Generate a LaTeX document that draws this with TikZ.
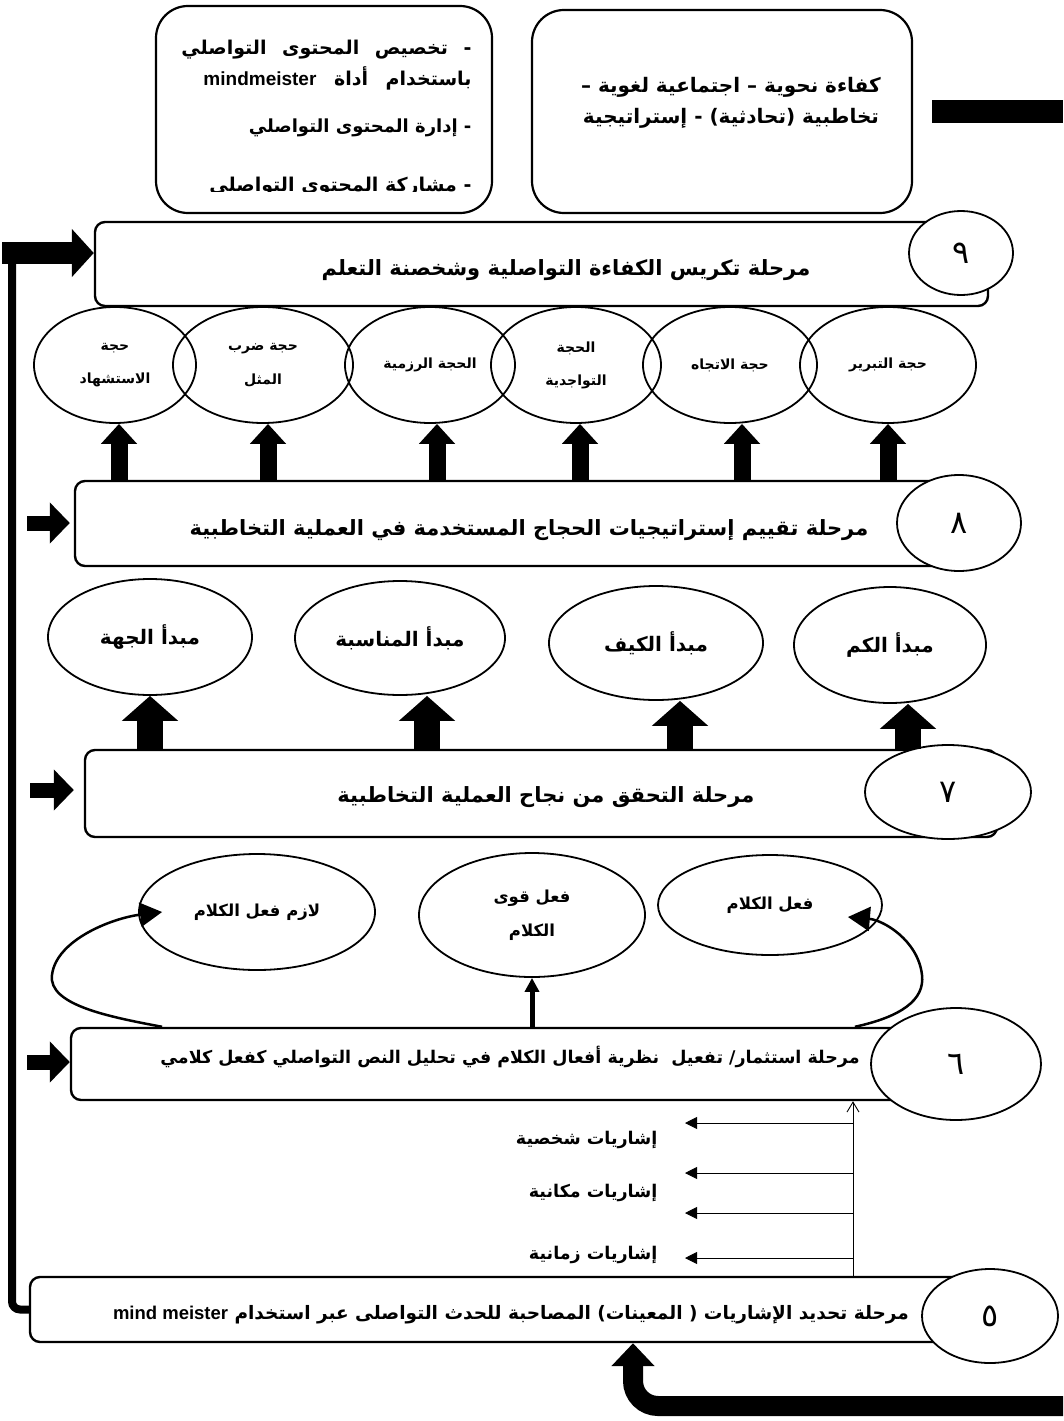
\documentclass[tikz,border=0pt]{standalone}
\usepackage{fontspec}
\setmainfont{Liberation Sans}
\newfontfamily\arabicfont[Script=Arabic]{DejaVu Sans}
\newfontfamily\latinfont{Liberation Sans}
\TeXXeTstate=1
\usepackage{tikz}
\usetikzlibrary{positioning, arrows.meta, shapes.geometric}

\newcommand{\artxt}[1]{{\arabicfont\bfseries\beginR #1\endR}}
\newcommand{\lat}[1]{\beginL{\latinfont\bfseries #1}\endL{}}
\newcommand{\fsize}[1]{\fontsize{#1}{#1}\selectfont}

\begin{document}
\begin{tikzpicture}[x=1pt, y=-1pt, >=Latex,
	stagebar/.style={draw, rectangle, rounded corners=10pt, line width=2.4pt},
	stagenum/.style={draw, ellipse, fill=white, line width=1.8pt, inner sep=0pt, font=\fsize{32}\arabicfont},
	oval/.style={draw, ellipse, line width=1.8pt, inner sep=0pt, align=center},
	infobox/.style={draw, rectangle, rounded corners=32pt, line width=2.2pt},
	fatup/.style={line width=17pt, -{Triangle[length=20pt, width=35pt]}},
	fatupb/.style={line width=26pt, -{Triangle[length=25pt, width=55pt]}},
	inarrow/.style={line width=15pt, -{Triangle[length=20pt, width=40pt]}},
	loopline/.style={line width=2.5pt, -{Triangle[length=22pt, width=24pt]}},
	thinarrow/.style={line width=0.9pt, -{Triangle[length=12pt, width=12pt]}}
]
	\useasboundingbox (0,0) rectangle (1063,1421);

	% Top boxes
	\node[infobox, minimum width=336pt, minimum height=207pt] (toolbox) at (324,109.5) {};
	\node[infobox, minimum width=380pt, minimum height=203pt] (compbox) at (722,111.5) {};
	\node[align=center, font=\fsize{20}] (comptext) at (731,103)
		{\artxt{كفاءة نحوية – اجتماعية لغوية –}\\[10pt]\artxt{تخاطبية (تحادثية) - إستراتيجية}};
	\node[anchor=east, font=\fsize{19}] (tool1) at (475,50) {\makebox[290pt][s]{\artxt{- تخصيص المحتوى التواصلي}}};
	\node[anchor=east, font=\fsize{19}] (tool2) at (475,78) {\makebox[268pt][s]{\artxt{باستخدام أداة \lat{mindmeister}}}};
	\node[anchor=east, font=\fsize{18}] (tool3) at (475,128) {\artxt{- إدارة المحتوى التواصلي}};
	\begin{scope}
		\clip (160,160) rectangle (490,191);
		\node[anchor=east, font=\fsize{19}] (tool4) at (475,187) {\makebox[262pt][s]{\artxt{- مشاركة المحتوى التواصلي}}};
	\end{scope}
	\node[fill=black, inner sep=0pt, minimum width=131pt, minimum height=23pt] (blackbar) at (997.5,111.5) {};

	% Stage bars
	\node[stagebar, minimum width=893pt, minimum height=84pt] (bar9) at (541.5,264) {};
	\node[stagebar, minimum width=910pt, minimum height=85pt] (bar8) at (530,523.5) {};
	\node[stagebar, minimum width=912pt, minimum height=87pt] (bar7) at (541,793.5) {};
	\node[stagebar, minimum width=919pt, minimum height=72pt] (bar6) at (530.5,1064) {};
	\node[stagebar, minimum width=970pt, minimum height=65pt] (bar5) at (515,1309.5) {};

	\node[font=\fsize{21}] (txt9) at (566,270) {\artxt{مرحلة تكريس الكفاءة التواصلية وشخصنة التعلم}};
	\node[font=\fsize{21}] (txt8) at (529,530) {\artxt{مرحلة تقييم إستراتيجيات الحجاج المستخدمة في العملية التخاطبية}};
	\node[font=\fsize{21}] (txt7) at (546,797) {\artxt{مرحلة التحقق من نجاح العملية التخاطبية}};
	\node[font=\fsize{17.5}] (txt6) at (510,1057) {\artxt{مرحلة استثمار/ تفعيل \ نظرية أفعال الكلام في تحليل النص التواصلي كفعل كلامي}};
	\node[font=\fsize{18.5}] (txt5) at (511,1315) {\artxt{مرحلة تحديد الإشاريات ( المعينات) المصاحبة للحدث التواصلى عبر استخدام \lat{mind meister}}};

	% Stage numbers
	\node[stagenum, minimum width=104pt, minimum height=84pt] (num9) at (961,253) {٩};
	\node[stagenum, minimum width=124pt, minimum height=96pt] (num8) at (959,523) {٨};
	\node[stagenum, minimum width=166pt, minimum height=94pt] (num7) at (948,792) {٧};
	\node[stagenum, minimum width=170pt, minimum height=112pt] (num6) at (956,1064) {٦};
	\node[stagenum, minimum width=136pt, minimum height=94pt] (num5) at (990,1316) {٥};

	% Argument ovals
	\node[oval, minimum width=162pt, minimum height=116pt, font=\fsize{14}] (arg1) at (115,365) {\artxt{حجة}\\[19pt]\artxt{الاستشهاد}};
	\node[oval, minimum width=180pt, minimum height=116pt, font=\fsize{14}] (arg2) at (263,365) {\artxt{حجة ضرب}\\[19pt]\artxt{المثل}};
	\node[oval, minimum width=170pt, minimum height=116pt, font=\fsize{14}] (arg3) at (430,365) {\artxt{الحجة الرزمية}};
	\node[oval, minimum width=170pt, minimum height=116pt, font=\fsize{14}] (arg4) at (576,365) {\artxt{الحجة}\\[19pt]\artxt{التواجدية}};
	\node[oval, minimum width=174pt, minimum height=116pt, font=\fsize{14}] (arg5) at (730,365) {\artxt{حجة الاتجاه}};
	\node[oval, minimum width=176pt, minimum height=116pt, font=\fsize{14}] (arg6) at (888,365) {\artxt{حجة التبرير}};

	\draw[fatup] ([xshift=4pt]arg1.south |- bar8.north) -- ([xshift=4pt]arg1.south);
	\draw[fatup] ([xshift=5pt]arg2.south |- bar8.north) -- ([xshift=5pt]arg2.south);
	\draw[fatup] ([xshift=7pt]arg3.south |- bar8.north) -- ([xshift=7pt]arg3.south);
	\draw[fatup] ([xshift=4pt]arg4.south |- bar8.north) -- ([xshift=4pt]arg4.south);
	\draw[fatup] ([xshift=12pt]arg5.south |- bar8.north) -- ([xshift=12pt]arg5.south);
	\draw[fatup] (arg6.south |- bar8.north) -- (arg6.south);

	% Principle ovals
	\node[oval, minimum width=204pt, minimum height=116pt, font=\fsize{20}] (prin1) at (150,637) {\artxt{مبدأ الجهة}};
	\node[oval, minimum width=210pt, minimum height=114pt, font=\fsize{20}] (prin2) at (400,638) {\artxt{مبدأ المناسبة}};
	\node[oval, minimum width=214pt, minimum height=114pt, font=\fsize{20}] (prin3) at (656,643) {\artxt{مبدأ الكيف}};
	\node[oval, minimum width=192pt, minimum height=116pt, font=\fsize{20}] (prin4) at (890,645) {\artxt{مبدأ الكم}};

	\draw[fatupb] (prin1.south |- bar7.north) -- (prin1.south);
	\draw[fatupb] ([xshift=27pt]prin2.south |- bar7.north) -- ([xshift=27pt]prin2.south);
	\draw[fatupb] ([xshift=24pt]prin3.south |- bar7.north) -- ([xshift=24pt]prin3.south);
	\draw[fatupb] ([xshift=18pt]prin4.south |- bar7.north) -- ([xshift=18pt]prin4.south);

	% Speech act ovals
	\node[oval, minimum width=236pt, minimum height=116pt, font=\fsize{16.5}] (act1) at (257,912) {\artxt{لازم فعل الكلام}};
	\node[oval, minimum width=226pt, minimum height=124pt, font=\fsize{16.5}] (act2) at (532,915) {\artxt{فعل قوى}\\[16pt]\artxt{الكلام}};
	\node[oval, minimum width=224pt, minimum height=100pt, font=\fsize{16.5}] (act3) at (770,905) {\artxt{فعل الكلام}};

	\coordinate (loopL) at (52,975);
	\coordinate (loopR) at (922,975);
	\draw[loopline] ([xshift=24pt]act1.west |- bar6.north) .. controls +(-53,-10) and +(-4,30) .. (loopL)
		.. controls +(4,-35) and +(-50,6) .. ([xshift=24pt]act1.west);
	\draw[loopline] ([xshift=-28pt]act3.east |- bar6.north) .. controls +(46,-10) and +(3,25) .. (loopR)
		.. controls +(-4,-35) and +(35,3) .. ([xshift=-35pt,yshift=-12pt]act3.east);
	\draw[line width=5pt, -{Triangle[length=14pt, width=14pt]}] (act2.south |- bar6.north) -- (act2.south);

	% Deixis list
	\node[anchor=east, font=\fsize{17.5}] (deix1) at (661,1140) {\artxt{إشاريات شخصية}};
	\node[anchor=east, font=\fsize{17.5}] (deix2) at (661,1193) {\artxt{إشاريات مكانية}};
	\node[anchor=east, font=\fsize{17.5}] (deix3) at (661,1255) {\artxt{إشاريات زمانية}};

	\coordinate (spine) at (853,1200);
	\coordinate (tip1) at (685,1123);
	\coordinate (tip2) at (685,1173);
	\coordinate (tip3) at (685,1213);
	\coordinate (tip4) at (685,1258);
	\draw[line width=0.9pt, -{Straight Barb[length=10pt, width=12pt]}] (spine |- bar5.north) -- (spine |- bar6.south);
	\draw[thinarrow] (spine |- tip1) -- (tip1);
	\draw[thinarrow] (spine |- tip2) -- (tip2);
	\draw[thinarrow] (spine |- tip3) -- (tip3);
	\draw[thinarrow] (spine |- tip4) -- (tip4);

	% Feedback and entry arrows
	\coordinate (fbtop) at (12,250);
	\coordinate (fbtail) at (2,253);
	\draw[line width=8pt, rounded corners=8pt] (bar5.west) -| (fbtop);
	\draw[line width=22pt, -{Triangle[length=22pt, width=47pt]}] (fbtail) -- (fbtail -| bar9.west);

	\coordinate (in8) at (27,523);
	\coordinate (in7) at (30,790);
	\coordinate (in6) at (27,1062);
	\draw[inarrow, shorten >=4pt] (in8) -- (in8 -| bar8.west);
	\draw[inarrow, shorten >=10pt] (in7) -- (in7 -| bar7.west);
	\draw[inarrow] (in6) -- (in6 -| bar6.west);

	\coordinate (loopin) at (1063,1406);
	\coordinate (loopx) at (633,1406);
	\draw[line width=20pt, rounded corners=25pt, -{Triangle[length=23pt, width=42pt]}] (loopin) -- (loopx) -- (loopx |- bar5.south);

\end{tikzpicture}
\end{document}
